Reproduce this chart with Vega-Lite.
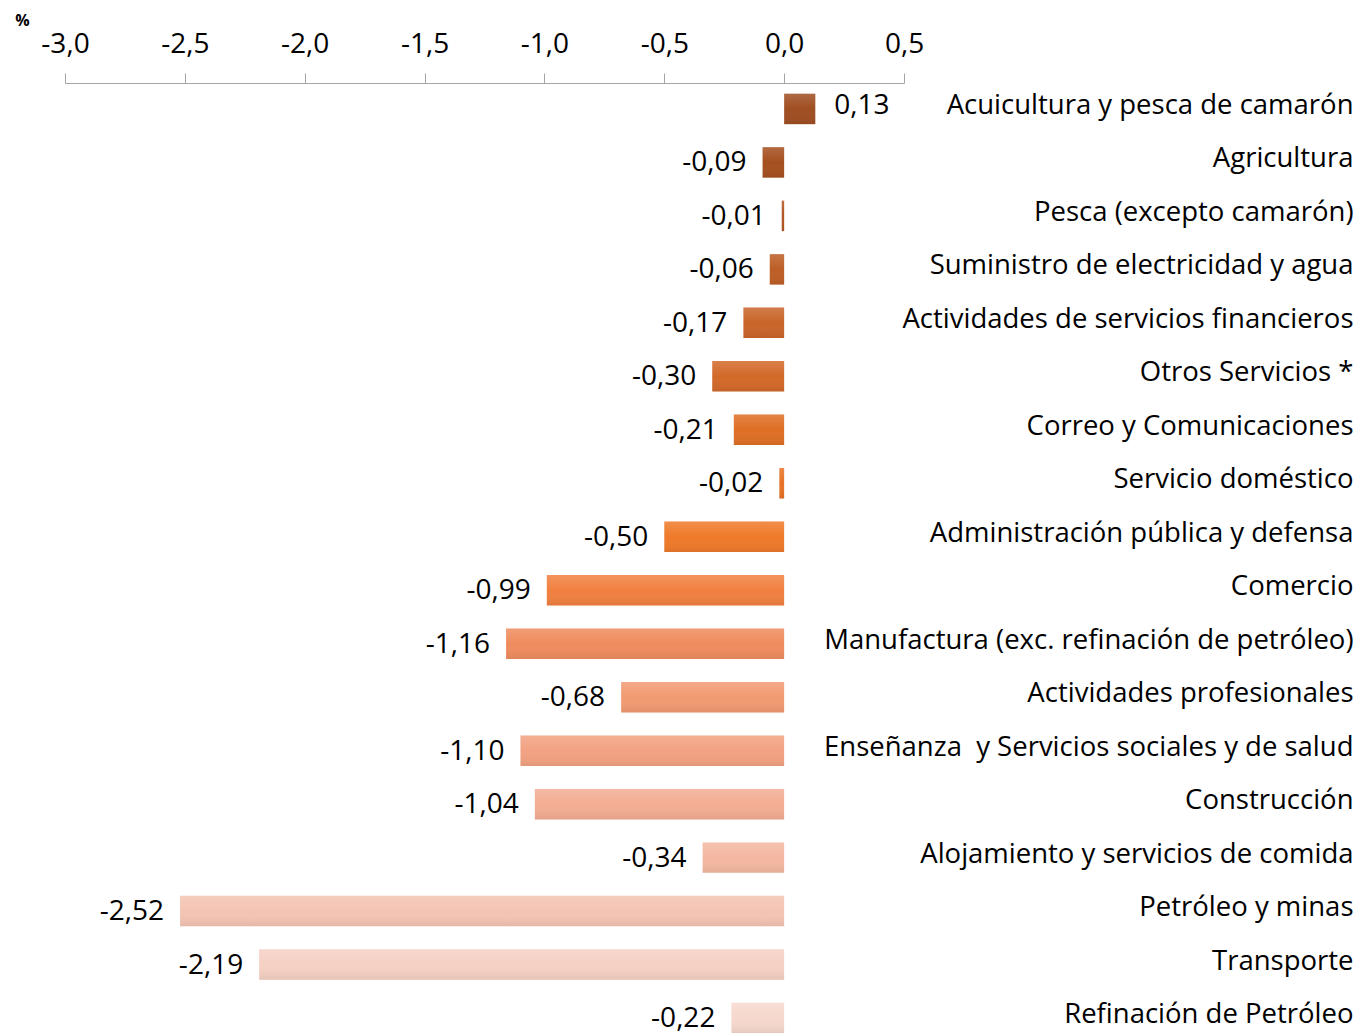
{
  "$schema": "https://vega.github.io/schema/vega-lite/v6.json",
  "autosize": {"type": "none"},
  "padding": {"left": 65, "top": 83, "right": 452, "bottom": 0},
  "width": 839,
  "height": 961,
  "background": "white",
  "config": {
    "locale": {"number": {"decimal": ",", "thousands": ".", "grouping": [3], "currency": ["", ""], "minus": "-"}},
    "view": {"stroke": null},
    "font": "Open Sans"
  },
  "data": {
    "values": [
      {"sector": "Acuicultura y pesca de camarón", "value": 0.13, "color": "#a04e22"},
      {"sector": "Agricultura", "value": -0.09, "color": "#a54f1f"},
      {"sector": "Pesca (excepto camarón)", "value": -0.01, "color": "#b25522"},
      {"sector": "Suministro de electricidad y agua", "value": -0.06, "color": "#bd5e26"},
      {"sector": "Actividades de servicios financieros", "value": -0.17, "color": "#c9652a"},
      {"sector": "Otros Servicios *", "value": -0.30, "color": "#d26929"},
      {"sector": "Correo y Comunicaciones", "value": -0.21, "color": "#df6f25"},
      {"sector": "Servicio doméstico", "value": -0.02, "color": "#e77226"},
      {"sector": "Administración pública y defensa", "value": -0.50, "color": "#ef7a2a"},
      {"sector": "Comercio", "value": -0.99, "color": "#f18040"},
      {"sector": "Manufactura (exc. refinación de petróleo)", "value": -1.16, "color": "#ef8c5e"},
      {"sector": "Actividades profesionales", "value": -0.68, "color": "#f29a72"},
      {"sector": "Enseñanza\u00a0 y Servicios sociales y de salud", "value": -1.10, "color": "#f2a282"},
      {"sector": "Construcción", "value": -1.04, "color": "#f3ad93"},
      {"sector": "Alojamiento y servicios de comida\u00a0\u00a0", "value": -0.34, "color": "#f4b8a0"},
      {"sector": "Petróleo y minas", "value": -2.52, "color": "#f4c4b3"},
      {"sector": "Transporte", "value": -2.19, "color": "#f5d0c3"},
      {"sector": "Refinación de Petróleo", "value": -0.22, "color": "#f6d8cd"}
    ]
  },
  "encoding": {
    "y": {
      "field": "sector", "type": "nominal", "sort": null,
      "scale": {"paddingInner": 0.43, "paddingOuter": 0.2},
      "axis": {
        "orient": "right", "title": null, "ticks": false, "domain": false,
        "labelAlign": "right", "labelPadding": 449, "labelFontSize": 27.5, "labelOffset": -3,
        "labelColor": "#000000", "labelFont": "Open Sans", "labelLimit": 700
      }
    }
  },
  "layer": [
    {
      "mark": {"type": "bar"},
      "encoding": {
        "x": {
          "field": "value", "type": "quantitative",
          "scale": {"domain": [-3, 0.5], "nice": false, "zero": false},
          "axis": {
            "orient": "top", "values": [-3, -2.5, -2, -1.5, -1, -0.5, 0, 0.5],
            "format": ".1f", "grid": false, "tickSize": 10, "tickColor": "#a6a6a6",
            "domainColor": "#a6a6a6", "labelFontSize": 28, "labelColor": "#000000",
            "labelPadding": 15, "labelFont": "Open Sans", "labelFlush": false, "labelOverlap": false,
            "title": "%", "titleFontSize": 16, "titleFontWeight": "bold", "titleColor": "#000000", "titleFont": "Open Sans",
            "titleX": -43, "titleY": -63, "titleAlign": "center", "titleBaseline": "middle", "titleAnchor": null
          }
        },
        "x2": {"datum": 0},
        "color": {"field": "color", "type": "nominal", "scale": null, "legend": null}
      }
    },
    {
      "mark": {
        "type": "bar",
        "color": {
          "gradient": "linear", "x1": 0, "y1": 0, "x2": 0, "y2": 1,
          "stops": [
            {"offset": 0, "color": "rgba(255,255,255,0.15)"},
            {"offset": 0.5, "color": "rgba(255,255,255,0)"},
            {"offset": 1, "color": "rgba(0,0,0,0.07)"}
          ]
        }
      },
      "encoding": {
        "x": {"field": "value", "type": "quantitative"},
        "x2": {"datum": 0}
      }
    },
    {
      "transform": [{"filter": "datum.value < 0"}],
      "mark": {"type": "text", "align": "right", "baseline": "middle", "dx": -16, "dy": 1, "fontSize": 28, "color": "#000000", "font": "Open Sans"},
      "encoding": {
        "x": {"field": "value", "type": "quantitative"},
        "text": {"field": "value", "type": "quantitative", "format": ".2f"}
      }
    },
    {
      "transform": [{"filter": "datum.value >= 0"}],
      "mark": {"type": "text", "align": "left", "baseline": "middle", "dx": 19, "dy": -3, "fontSize": 28, "color": "#000000", "font": "Open Sans"},
      "encoding": {
        "x": {"field": "value", "type": "quantitative"},
        "text": {"field": "value", "type": "quantitative", "format": ".2f"}
      }
    }
  ]
}
